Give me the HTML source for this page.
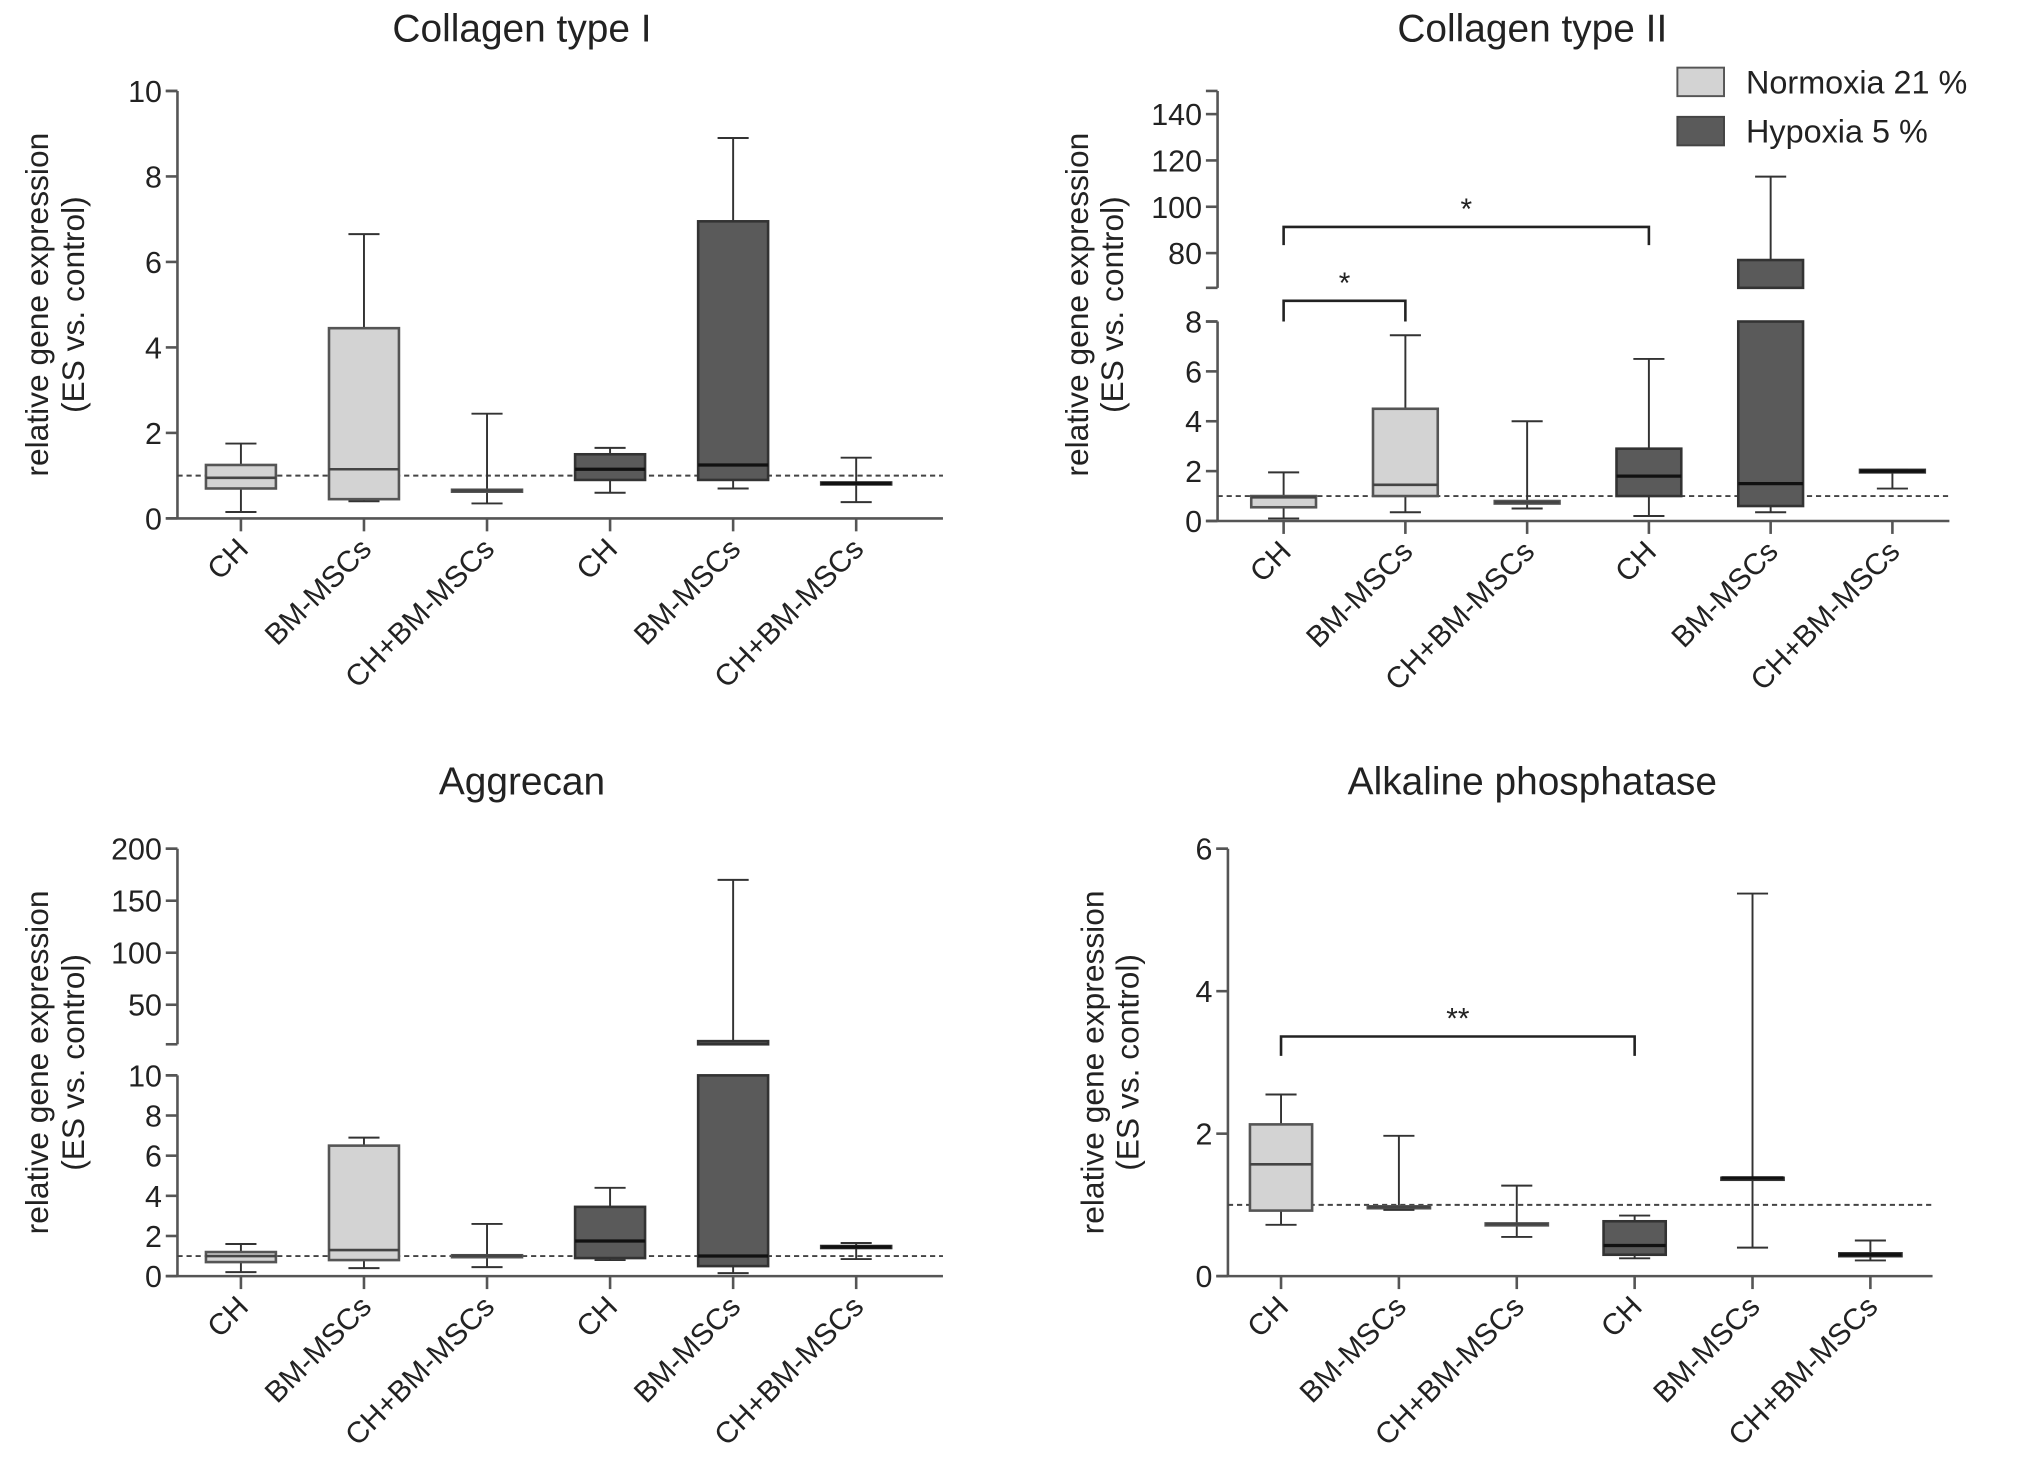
<!DOCTYPE html>
<html><head><meta charset="utf-8"><style>
html,body{margin:0;padding:0;background:#fff}
svg{display:block}
text{font-family:"Liberation Sans",sans-serif;fill:#222}
</style></head><body>
<svg id="fig" width="2031" height="1472" viewBox="0 0 1568 1136" xmlns="http://www.w3.org/2000/svg">
<g id="legend">
<rect x="1295" y="52" width="36" height="22" fill="#d3d3d3" stroke="#555" stroke-width="1.5"/>
<text x="1348" y="72" font-size="25">Normoxia 21 %</text>
<rect x="1295" y="90" width="36" height="22" fill="#5a5a5a" stroke="#444" stroke-width="1.5"/>
<text x="1348" y="110" font-size="25">Hypoxia 5 %</text>
</g>
</svg>
<script>
const categories = ["CH","BM-MSCs","CH+BM-MSCs","CH","BM-MSCs","CH+BM-MSCs"];
const conditions = ["normoxia","normoxia","normoxia","hypoxia","hypoxia","hypoxia"];
// [whiskerLow, q1, median, q3, whiskerHigh]
const col1Values = [[0.15,0.7,0.95,1.25,1.75],[0.4,0.45,1.15,4.45,6.65],[0.35,0.63,0.65,0.67,2.45],[0.6,0.9,1.15,1.5,1.65],[0.7,0.9,1.25,6.95,8.9],[0.38,0.8,0.82,0.84,1.42]];
const col2Values = [[0.1,0.55,0.95,1.0,1.95],[0.35,1.0,1.45,4.5,7.45],[0.5,0.7,0.75,0.8,4.0],[0.2,1.0,1.8,2.9,6.5],[0.35,0.6,1.5,77,113],[1.3,1.95,2.0,2.05,2.05]];
const aggValues = [[0.2,0.7,1.0,1.2,1.6],[0.4,0.8,1.3,6.5,6.9],[0.45,1.0,1.02,1.04,2.6],[0.8,0.9,1.75,3.45,4.4],[0.15,0.5,1.0,15,170],[0.85,1.4,1.45,1.5,1.65]];
const alpValues = [[0.72,0.92,1.57,2.13,2.55],[0.93,0.96,0.97,0.98,1.97],[0.55,0.72,0.73,0.74,1.27],[0.25,0.3,0.43,0.77,0.85],[0.4,1.38,1.38,1.38,5.37],[0.22,0.28,0.3,0.32,0.5]];
const col1Ticks = [0,2,4,6,8,10];
const col2Ticks = [0,2,4,6,8,80,100,120,140];
const aggTicks = [0,2,4,6,8,10,50,100,150,200];
const alpTicks = [0,2,4,6];

const NS="http://www.w3.org/2000/svg";
const svg=document.getElementById('fig');
function mk(tag,attrs,parent){const e=document.createElementNS(NS,tag);for(const k in attrs)e.setAttribute(k,attrs[k]);(parent||svg).appendChild(e);return e;}

const panels=[
 {name:'collagen-1',title:'Collagen type I',tx:403,ty:32,ax:137,x0:186,dx:95,xend:728,
  segs:[{lo:0,hi:10,y0:400,y1:70}],ticks:col1Ticks,vals:col1Values,bw:54,ytx:[29,57],yty:235,brackets:[]},
 {name:'collagen-2',title:'Collagen type II',tx:1183,ty:32,ax:940,x0:991,dx:94,xend:1505,
  segs:[{lo:0,hi:8,y0:402,y1:248},{lo:65,hi:150,y0:222,y1:70}],ticks:col2Ticks,vals:col2Values,bw:50,ytx:[832,859],yty:235,
  brackets:[{a:0,b:1,y:232,h:16,label:'*'},{a:0,b:3,y:175,h:14,label:'*'}]},
 {name:'aggrecan',title:'Aggrecan',tx:403,ty:613,ax:137,x0:186,dx:95,xend:728,
  segs:[{lo:0,hi:10,y0:985,y1:830},{lo:12,hi:200,y0:806,y1:655}],ticks:aggTicks,vals:aggValues,bw:54,ytx:[29,57],yty:820,brackets:[]},
 {name:'alkaline-phosphatase',title:'Alkaline phosphatase',tx:1183,ty:613,ax:948,x0:989,dx:91,xend:1492,
  segs:[{lo:0,hi:6,y0:985,y1:655}],ticks:alpTicks,vals:alpValues,bw:48,ytx:[844,871],yty:820,
  brackets:[{a:0,b:3,y:800,h:15,label:'**'}]}
];

panels.forEach(p=>{
 const g=mk('g',{});
 
 
 const segOf=v=>p.segs.find(s=>v>=s.lo&&v<=s.hi);
 const yv=(v,s)=>s.y0+(v-s.lo)*(s.y1-s.y0)/(s.hi-s.lo);
 const xc=i=>p.x0+i*p.dx;
 const t=mk('text',{x:p.tx,y:p.ty,'font-size':30,'text-anchor':'middle'},g);t.textContent=p.title;
 
 
 const lines=['relative gene expression','(ES vs. control)'];
 lines.forEach((l,k)=>{const e=mk('text',{x:0,y:0,'font-size':24.5,'text-anchor':'middle',transform:`translate(${p.ytx[k]+8},${p.yty}) rotate(-90)`},g);e.textContent=l;
  
  });
 p.segs.forEach(s=>{
  const a=mk('line',{x1:p.ax,x2:p.ax,y1:s.y0,y2:s.y1,stroke:'#555','stroke-width':2},g);
  
  
  [s.y0,s.y1].forEach(y=>mk('line',{x1:p.ax-9,x2:p.ax,y1:y,y2:y,stroke:'#555','stroke-width':2},g));
 });
 p.ticks.forEach(v=>{const s=segOf(v);const y=yv(v,s);
  mk('line',{x1:p.ax-9,x2:p.ax,y1:y,y2:y,stroke:'#555','stroke-width':2},g);
  const e=mk('text',{x:p.ax-12,y:y+8.5,'font-size':23.5,'text-anchor':'end'},g);e.textContent=v;
  
  });
 const ybase=p.segs[0].y0;
 const xa=mk('line',{x1:p.ax,x2:p.xend,y1:ybase,y2:ybase,stroke:'#555','stroke-width':2},g);
 
 
 const yr=yv(1,segOf(1));
 const dl=mk('line',{x1:p.ax,x2:p.xend,y1:yr,y2:yr,stroke:'#444','stroke-width':1.5,'stroke-dasharray':'4,3'},g);
 
 
 categories.forEach((c,i)=>{
  const x=xc(i);
  mk('line',{x1:x,x2:x,y1:ybase,y2:ybase+10,stroke:'#555','stroke-width':2},g);
  const e=mk('text',{x:0,y:0,'font-size':23,'text-anchor':'end',transform:`translate(${x+7},${ybase+25}) rotate(-45)`},g);e.textContent=c;
  
  
 });
 p.vals.forEach((d,i)=>{
  const x=xc(i),hw=p.bw/2,dark=conditions[i]==='hypoxia';
  const bg=mk('g',{},g);
  
  
  const col=dark?'#5a5a5a':'#d3d3d3',st=dark?'#333':'#555';
  p.segs.forEach(s=>{
   [[d[0],d[1]],[d[3],d[4]]].forEach(([a,b])=>{const lo=Math.max(a,s.lo),hi=Math.min(b,s.hi);if(hi>lo)mk('line',{x1:x,x2:x,y1:yv(lo,s),y2:yv(hi,s),stroke:'#333','stroke-width':1.5},bg);});
   const lo=Math.max(d[1],s.lo),hi=Math.min(d[3],s.hi);
   if(hi>=lo){const y1=yv(hi,s),y2=yv(lo,s);mk('rect',{x:x-hw,y:y1,width:p.bw,height:Math.max(y2-y1,1.5),fill:col,stroke:st,'stroke-width':2},bg);}
  });
  [0,4].forEach(k=>{const s=segOf(d[k]);if(s){const y=yv(d[k],s);mk('line',{x1:x-12,x2:x+12,y1:y,y2:y,stroke:'#333','stroke-width':1.5},bg);}});
  const sm=segOf(d[2]);if(sm){const y=yv(d[2],sm);mk('line',{x1:x-hw,x2:x+hw,y1:y,y2:y,stroke:dark?'#111':'#444','stroke-width':dark?2.5:2},bg);}
 });
 p.brackets.forEach(b=>{
  const xa=xc(b.a),xb=xc(b.b);
  const br=mk('path',{d:`M${xa},${b.y+b.h} V${b.y} H${xb} V${b.y+b.h}`,fill:'none',stroke:'#222','stroke-width':2},g);
  
  
  const e=mk('text',{x:(xa+xb)/2,y:b.y-6,'font-size':23,'text-anchor':'middle'},g);e.textContent=b.label;
  
  
 });
});
</script>
</body></html>
